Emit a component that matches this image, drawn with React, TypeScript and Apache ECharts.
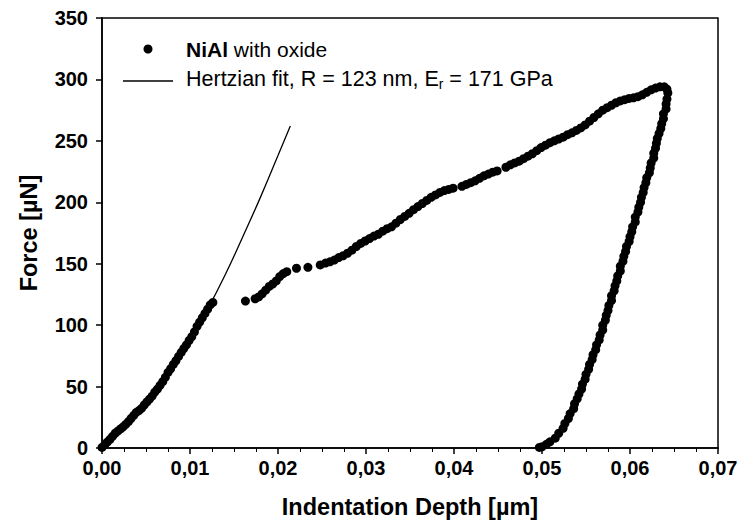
import React, { useEffect, useRef } from 'react';
import * as echarts from 'echarts';

// Depth [µm], Force [µN]
const loadingBeforePopIn: number[][] = [
  [0.0000, 0.5], [0.0003, 2.5], [0.0006, 4.8], [0.0009, 7.0], [0.0012, 9.5], [0.0015, 12.0],
  [0.0018, 13.8], [0.0021, 15.5], [0.0024, 17.2], [0.0027, 19.3], [0.0030, 21.4], [0.0033, 24.0],
  [0.0036, 26.5], [0.0039, 29.0], [0.0042, 30.5], [0.0045, 32.3], [0.0048, 35.0], [0.0051, 37.5],
  [0.0054, 39.8], [0.0057, 42.3], [0.0060, 45.5], [0.0063, 48.0], [0.0066, 51.0], [0.0069, 54.0],
  [0.0072, 57.5], [0.0075, 61.5], [0.0078, 64.5], [0.0081, 68.0], [0.0084, 71.0], [0.0087, 74.5],
  [0.0090, 77.8], [0.0093, 81.0], [0.0096, 84.0], [0.0099, 87.5], [0.0102, 90.6], [0.0105, 94.5],
  [0.0108, 99.0], [0.0111, 102.5], [0.0114, 106.0], [0.0117, 109.5], [0.0120, 113.0], [0.0123, 116.5],
  [0.0126, 118.5],
];

const loadingAfterPopIn: number[][] = [
  [0.0163, 119.6], [0.0174, 121.5], [0.0178, 123.0], [0.0182, 125.5], [0.0186, 128.5], [0.0190, 131.5],
  [0.0194, 133.5], [0.0198, 136.0], [0.0202, 139.5], [0.0206, 142.0], [0.0210, 143.5], [0.0221, 146.3],
  [0.0234, 147.1], [0.0248, 149.0], [0.0254, 150.5], [0.0259, 151.5], [0.0264, 153.0], [0.0269, 155.0],
  [0.0274, 156.5], [0.0279, 158.5], [0.0284, 161.0], [0.0289, 164.0], [0.0294, 166.5], [0.0299, 168.5],
  [0.0304, 170.5], [0.0309, 172.5], [0.0314, 174.0], [0.0319, 176.5], [0.0324, 178.5], [0.0329, 180.0],
  [0.0334, 183.0], [0.0339, 186.0], [0.0344, 188.5], [0.0349, 191.0], [0.0354, 194.0], [0.0359, 196.5],
  [0.0364, 199.0], [0.0369, 201.5], [0.0374, 204.0], [0.0379, 206.0], [0.0384, 208.0], [0.0389, 209.5],
  [0.0394, 210.5], [0.0399, 211.5], [0.0409, 213.0], [0.0414, 214.5], [0.0419, 216.0],
  [0.0424, 217.5], [0.0429, 219.5], [0.0434, 221.5], [0.0439, 223.0], [0.0444, 224.5], [0.0449, 225.5],
  [0.0459, 228.5], [0.0464, 230.5], [0.0469, 232.0], [0.0474, 233.5], [0.0479, 235.5],
  [0.0484, 237.5], [0.0489, 239.5], [0.0494, 242.0], [0.0499, 244.5], [0.0504, 246.5], [0.0509, 248.5],
  [0.0514, 250.0], [0.0519, 251.5], [0.0524, 253.0], [0.0529, 255.0], [0.0534, 256.5], [0.0539, 258.5],
  [0.0544, 260.5], [0.0549, 263.0], [0.0554, 266.0], [0.0559, 269.0], [0.0564, 272.0], [0.0569, 275.0],
  [0.0574, 277.0], [0.0579, 279.0], [0.0584, 281.0], [0.0589, 282.5], [0.0594, 283.5], [0.0599, 284.5],
  [0.0604, 285.0], [0.0609, 286.0], [0.0614, 287.5], [0.0619, 289.5], [0.0624, 291.5], [0.0629, 293.0],
  [0.0634, 294.0], [0.0639, 294.0], [0.0642, 292.0], [0.0643, 289.0],
];

const unloading: number[][] = [
  [0.0642, 284], [0.0641, 280], [0.0641, 276], [0.0638, 272], [0.0638, 268], [0.0636, 264],
  [0.0635, 260], [0.0633, 256], [0.0631, 252], [0.0630, 248], [0.0629, 244], [0.0627, 240],
  [0.0627, 236], [0.0624, 232], [0.0623, 228], [0.0622, 224], [0.0619, 220], [0.0618, 216],
  [0.0616, 212], [0.0615, 208], [0.0613, 204], [0.0612, 200], [0.0610, 196], [0.0609, 192],
  [0.0606, 188], [0.0606, 184], [0.0603, 180], [0.0602, 176], [0.0600, 172], [0.0599, 168],
  [0.0596, 164], [0.0595, 160], [0.0593, 156], [0.0592, 152], [0.0589, 148], [0.0589, 144],
  [0.0586, 140], [0.0585, 136], [0.0583, 132], [0.0582, 128], [0.0579, 124], [0.0579, 120],
  [0.0576, 116], [0.0575, 112], [0.0573, 108], [0.0572, 104], [0.0569, 100], [0.0569, 96],
  [0.0566, 92], [0.0565, 88], [0.0562, 84], [0.0561, 80], [0.0558, 76], [0.0557, 72],
  [0.0554, 68], [0.0553, 64], [0.0550, 60], [0.0549, 56], [0.0546, 52], [0.0545, 48],
  [0.0542, 44], [0.0540, 40], [0.0537, 36], [0.0536, 32], [0.0532, 28], [0.0530, 24],
  [0.0526, 20], [0.0524, 16], [0.0519, 12], [0.0515, 8], [0.0509, 5], [0.0505, 3],
  [0.0500, 1], [0.0497, 0.5],
];

const hertzianFit: number[][] = [
  [0.0, 0.0], [0.002, 14], [0.004, 30], [0.006, 45], [0.008, 65], [0.010, 88],
  [0.012, 113], [0.014, 141], [0.016, 172], [0.018, 204], [0.020, 238], [0.0214, 262],
];

const xMin = 0;
const xMax = 0.07;
const xStep = 0.01;
const yMin = 0;
const yMax = 350;
const yStep = 50;

const legendDataLabel = '{b|NiAl} with oxide';
const legendFitLabel = 'Hertzian fit, R = 123 nm, E{s|r} = 171 GPa';

const FONT = '"Liberation Sans", Arial, Helvetica, sans-serif';

export default function App() {
  const ref = useRef<HTMLDivElement>(null);
  useEffect(() => {
    if (!ref.current) return;
    const chart = echarts.init(ref.current, undefined, { renderer: 'svg' });
    const dataPoints = [...loadingBeforePopIn, ...loadingAfterPopIn, ...unloading];
    chart.setOption({
      animation: false,
      backgroundColor: '#fff',
      textStyle: { fontFamily: FONT },
      grid: {
        left: 102, right: 24, top: 18, bottom: 82,
        show: true, borderColor: '#000', borderWidth: 1.5, backgroundColor: 'transparent',
      },
      xAxis: {
        type: 'value', min: xMin, max: xMax, interval: xStep,
        name: 'Indentation Depth [µm]', nameLocation: 'middle', nameGap: 47,
        nameTextStyle: { fontSize: 23.5, fontWeight: 'bold', color: '#000', fontFamily: FONT },
        axisLine: { lineStyle: { color: '#000', width: 1.5 } },
        axisTick: { show: true, length: 6, lineStyle: { color: '#000', width: 1.5 } },
        minorTick: { show: true, splitNumber: 4, length: 4, lineStyle: { color: '#000', width: 1 } },
        splitLine: { show: false },
        axisLabel: {
          fontSize: 20, fontWeight: 'bold', color: '#000', margin: 10, fontFamily: FONT,
          formatter: (v: number) => v.toFixed(2).replace('.', ','),
        },
      },
      yAxis: {
        type: 'value', min: yMin, max: yMax, interval: yStep,
        name: 'Force [µN]', nameLocation: 'middle', nameGap: 61,
        nameTextStyle: { fontSize: 23.5, fontWeight: 'bold', color: '#000', fontFamily: FONT },
        axisLine: { show: true, lineStyle: { color: '#000', width: 1.5 } },
        axisTick: { show: true, length: 6, lineStyle: { color: '#000', width: 1.5 } },
        splitLine: { show: false },
        axisLabel: { fontSize: 20, fontWeight: 'bold', color: '#000', margin: 14, fontFamily: FONT },
      },
      series: [
        {
          name: 'Hertzian fit', type: 'line', data: hertzianFit, smooth: true, showSymbol: false,
          symbol: 'none', lineStyle: { color: '#000', width: 1.3 }, z: 2,
        },
        {
          name: 'NiAl with oxide', type: 'scatter', data: dataPoints, symbol: 'circle', symbolSize: 9,
          itemStyle: { color: '#000', opacity: 1 }, z: 3,
        },
      ],
      graphic: [
        { type: 'circle', shape: { cx: 148, cy: 49, r: 4.5 }, style: { fill: '#000' } },
        {
          type: 'text', x: 186, y: 49,
          style: {
            text: legendDataLabel, fontSize: 21, fontFamily: FONT, fill: '#000', verticalAlign: 'middle',
            rich: { b: { fontSize: 21, fontWeight: 'bold', fontFamily: FONT, fill: '#000' } },
          },
        },
        { type: 'line', shape: { x1: 123, y1: 81, x2: 173, y2: 81 }, style: { stroke: '#000', lineWidth: 1.3 } },
        {
          type: 'text', x: 186, y: 79,
          style: {
            text: legendFitLabel, fontSize: 21.5, fontFamily: FONT, fill: '#000', verticalAlign: 'middle',
            lineHeight: 24,
            rich: { s: { fontSize: 14, fontFamily: FONT, fill: '#000', lineHeight: 3, verticalAlign: 'bottom' } },
          },
        },
      ],
    });
    return () => chart.dispose();
  }, []);
  return <div ref={ref} style={{ position: 'fixed', left: 0, top: 0, width: 742, height: 530 }} />;
}
